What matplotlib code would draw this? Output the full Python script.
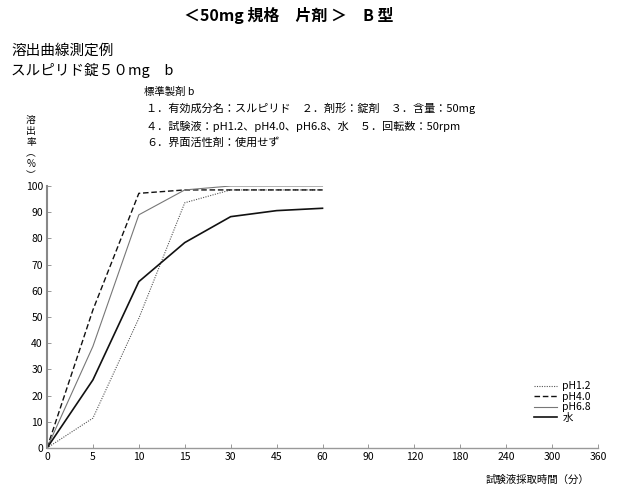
import numpy as np
import matplotlib
matplotlib.use("Agg")
from matplotlib import pyplot as plt

plt.rcParams['font.family'] = ['Noto Sans CJK JP', 'DejaVu Sans']

time_labels = ["0", "5", "10", "15", "30", "45", "60", "90", "120", "180", "240", "300", "360"]
sample_times = ["0", "5", "10", "15", "30", "45", "60"]

ph12 = [0, 11.4, 49.5, 93.6, 98.5, 98.5, 98.5]
ph40 = [0, 52.7, 97.2, 98.5, 98.5, 98.5, 98.5]
ph68 = [0, 38.8, 89.0, 98.5, 100.0, 100.0, 100.0]
water = [0, 26.0, 63.5, 78.4, 88.3, 90.6, 91.5]

series_names = ["pH1.2", "pH4.0", "pH6.8", "水"]

fig = plt.figure(figsize=(6.2, 4.93), dpi=100)
ax = fig.add_axes([47/620, 1 - 448/493, 551/620, 262/493])

x = [time_labels.index(t) for t in sample_times]
ax.plot(x, ph12, color="#555555", linestyle=(0, (1, 1.2)), linewidth=0.8, label=series_names[0])
ax.plot(x, ph40, color="#111111", linestyle=(0, (4, 2)), linewidth=1.0, label=series_names[1])
ax.plot(x, ph68, color="#777777", linestyle="-", linewidth=0.8, label=series_names[2])
ax.plot(x, water, color="#111111", linestyle="-", linewidth=1.2, label=series_names[3])

ax.set_xlim(0, len(time_labels) - 1)
ax.set_ylim(0, 100)
ax.set_xticks(range(len(time_labels)))
ax.set_xticklabels(time_labels)
ax.set_yticks(np.arange(0, 101, 10))
for s in ["top", "right"]:
    ax.spines[s].set_visible(False)
ax.spines["left"].set_color("#888888")
ax.spines["left"].set_linewidth(1.5)
ax.spines["bottom"].set_color("#999999")
ax.spines["bottom"].set_linewidth(1.0)
ax.tick_params(axis="both", direction="in", labelsize=7.5, length=3, width=0.6,
               color="#888888", pad=3)

leg = ax.legend(loc="lower right", bbox_to_anchor=(0.995, 0.08), frameon=False,
                fontsize=7.5, handlelength=2.2, handletextpad=0.5,
                labelspacing=0.05, borderaxespad=0)

fig.text(0.465, 1 - 15/493, "＜50mg 規格　片剤 ＞　B 型", ha="center", va="center",
         fontsize=11.5, fontweight="bold")
fig.text(11/620, 1 - 51/493, "溶出曲線測定例", ha="left", va="center", fontsize=10.5)
fig.text(11/620, 1 - 71/493, "スルピリド錠５０mg　b", ha="left", va="center", fontsize=10.5)
fig.text(144/620, 1 - 92/493, "標準製剤 b", ha="left", va="center", fontsize=7.5)
fig.text(146/620, 1 - 108/493, "１．有効成分名：スルピリド　２．剤形：錠剤　３．含量：50mg",
         ha="left", va="center", fontsize=8)
fig.text(146/620, 1 - 127/493, "４．試験液：pH1.2、pH4.0、pH6.8、水　５．回転数：50rpm",
         ha="left", va="center", fontsize=8)
fig.text(146/620, 1 - 143/493, "６．界面活性剤：使用せず", ha="left", va="center", fontsize=8)

ylabel_chars = ["溶", "出", "率", "︵", "%", "︶"]
for i, ch in enumerate(ylabel_chars):
    fig.text(31/620, 1 - (120 + i * 11) / 493, ch, ha="center", va="center", fontsize=7)

fig.text(538/620, 1 - 480/493, "試験液採取時間（分）", ha="center", va="center", fontsize=7.5)

fig.savefig("out.png", dpi=100)
